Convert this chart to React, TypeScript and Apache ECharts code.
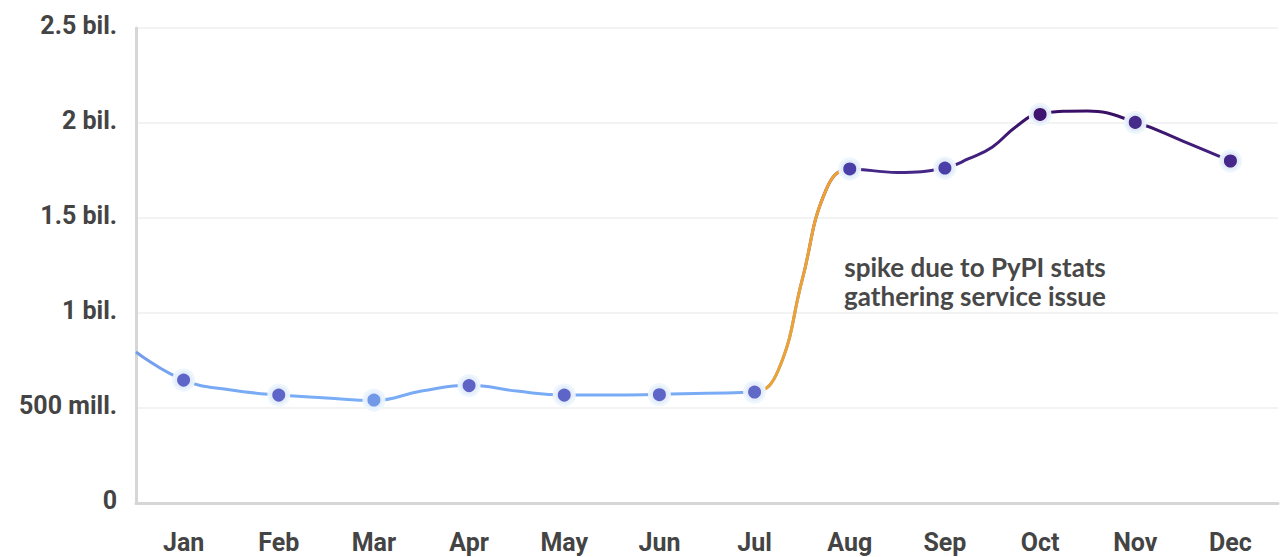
import React, { useEffect, useRef } from "react";
import * as echarts from "echarts";

const months = ["Jan", "Feb", "Mar", "Apr", "May", "Jun", "Jul", "Aug", "Sep", "Oct", "Nov", "Dec"];
// monthly downloads (dots)
const downloads = [647e6, 568e6, 542e6, 618e6, 568e6, 570e6, 584e6, 1758e6, 1763e6, 2045e6, 2003e6, 1800e6];
// finer trend line: positions in months (0 = Jan) and values
const trendPositions = [-0.5, 0, 0.5, 1, 1.5, 2, 2.5, 3, 3.5, 4, 4.5, 5, 5.5, 6, 6.25, 6.5, 6.75, 7, 7.5, 8, 8.25, 8.5, 8.75, 9, 9.5, 10, 10.5, 11];
const trendValues = [795e6, 647e6, 595e6, 568e6, 553e6, 540e6, 589e6, 620e6, 589e6, 568e6, 568e6, 572e6, 578e6, 584e6, 700e6, 1174e6, 1647e6, 1758e6, 1740e6, 1763e6, 1812e6, 1874e6, 1982e6, 2050e6, 2063e6, 2005e6, 1905e6, 1800e6];
const yTickValues = [0, 500e6, 1000e6, 1500e6, 2000e6, 2500e6];
const yTickLabels = ["0", "500 mill.", "1 bil.", "1.5 bil.", "2 bil.", "2.5 bil."];
const spikeFrom = 6; // Jul
const spikeTo = 7; // Aug
const annotationLines = ["spike due to PyPI stats", "gathering service issue"];

const dotColors = ["#5d66c8", "#5d66c8", "#7298e8", "#5f63c6", "#5d66c8", "#5d66c8", "#6068c8", "#4a3fa8", "#4a3fa8", "#3e1470", "#452a8a", "#45268a"];

const W = 1280;
const H = 557;
const GRID = { left: 136, right: 2, top: 28, bottom: 54 };
const Y_MAX = 2.5e9;

export default function App() {
  const ref = useRef<HTMLDivElement>(null);
  useEffect(() => {
    if (!ref.current) return;
    const chart = echarts.init(ref.current, null, { renderer: "svg", width: W, height: H });
    const plotW = W - GRID.left - GRID.right;
    const plotH = H - GRID.top - GRID.bottom;
    const xPix = (i: number) => GRID.left + ((i + 0.5) * plotW) / 12;
    const yPix = (v: number) => GRID.top + plotH * (1 - v / Y_MAX);

    const lineData = trendPositions.map((p, i) => [p, trendValues[i]]);
    const dotData = downloads.map((v, i) => [i, v]);
    const minV = Math.min(...downloads);
    const maxV = Math.max(...downloads);

    const fa = xPix(spikeFrom) / W;
    const fb = xPix(spikeTo) / W;

    const labelFont = { fontFamily: "Roboto", fontWeight: "bold" as const, fontSize: 25, color: "#444444" };

    const smooth = 0.45;

    chart.setOption({
      animation: false,
      grid: { ...GRID, containLabel: false },
      xAxis: [
        {
          type: "category",
          data: months,
          boundaryGap: true,
          axisTick: { show: false },
          axisLine: { show: true, lineStyle: { color: "#d6d6d6", width: 3 } },
          axisLabel: { ...labelFont, margin: 27 },
          splitLine: { show: false },
        },
        {
          type: "value",
          min: -0.5,
          max: 11.5,
          show: false,
          splitLine: { show: false },
        },
      ],
      yAxis: {
        type: "value",
        min: 0,
        max: Y_MAX,
        interval: 500e6,
        axisTick: { show: false },
        axisLine: { show: true, onZero: false, lineStyle: { color: "#d6d6d6", width: 3 } },
        splitLine: { show: true, lineStyle: { color: "#f3f3f3", width: 2 } },
        axisLabel: {
          ...labelFont,
          margin: 19,
          verticalAlign: "bottom",
          lineHeight: 6,
          formatter: (v: number) => {
            const idx = yTickValues.findIndex((t) => Math.abs(t - v) < 1);
            return idx >= 0 ? yTickLabels[idx] : "";
          },
        },
      },
      series: [
        {
          type: "line",
          xAxisIndex: 1,
          data: lineData,
          smooth,
          symbol: "none",
          clip: true,
          z: 2,
          lineStyle: {
            width: 3,
            color: {
              type: "linear",
              x: 0,
              y: yPix(minV),
              x2: 0,
              y2: yPix(maxV),
              global: true,
              colorStops: [
                { offset: 0, color: "#7aaef7" },
                { offset: 0.35, color: "#6b86e0" },
                { offset: 0.7, color: "#4b3398" },
                { offset: 1, color: "#3a1066" },
              ],
            },
          },
        },
        {
          type: "line",
          xAxisIndex: 1,
          data: lineData,
          smooth,
          symbol: "none",
          clip: true,
          z: 3,
          lineStyle: {
            width: 3,
            color: {
              type: "linear",
              x: 0,
              y: 0,
              x2: W,
              y2: 0,
              global: true,
              colorStops: [
                { offset: 0, color: "rgba(240,160,48,0)" },
                { offset: fa, color: "rgba(240,160,48,0)" },
                { offset: fa + 0.0001, color: "#efa22f" },
                { offset: fb, color: "#efa22f" },
                { offset: fb + 0.0001, color: "rgba(240,160,48,0)" },
                { offset: 1, color: "rgba(240,160,48,0)" },
              ],
            },
          },
        },
        {
          type: "line",
          xAxisIndex: 1,
          data: dotData,
          symbol: "circle",
          symbolSize: 18,
          showSymbol: true,
          z: 4,
          lineStyle: { opacity: 0, width: 0 },
          itemStyle: {
            color: (p: any) => dotColors[p.dataIndex],
            borderColor: "rgba(236,244,253,0.95)",
            borderWidth: 5,
          },
        },
      ],
      graphic: [
        {
          type: "text",
          x: 975,
          y: 252,
          style: {
            text: annotationLines.join("\n"),
            fontFamily: "Lato",
            fontWeight: "bold",
            fontSize: 26,
            lineHeight: 29,
            fill: "#484848",
            align: "center",
            verticalAlign: "top",
          },
        },
      ],
    });
    return () => chart.dispose();
  }, []);
  return <div ref={ref} style={{ width: W, height: H, position: "absolute", left: 0, top: 0 }} />;
}
